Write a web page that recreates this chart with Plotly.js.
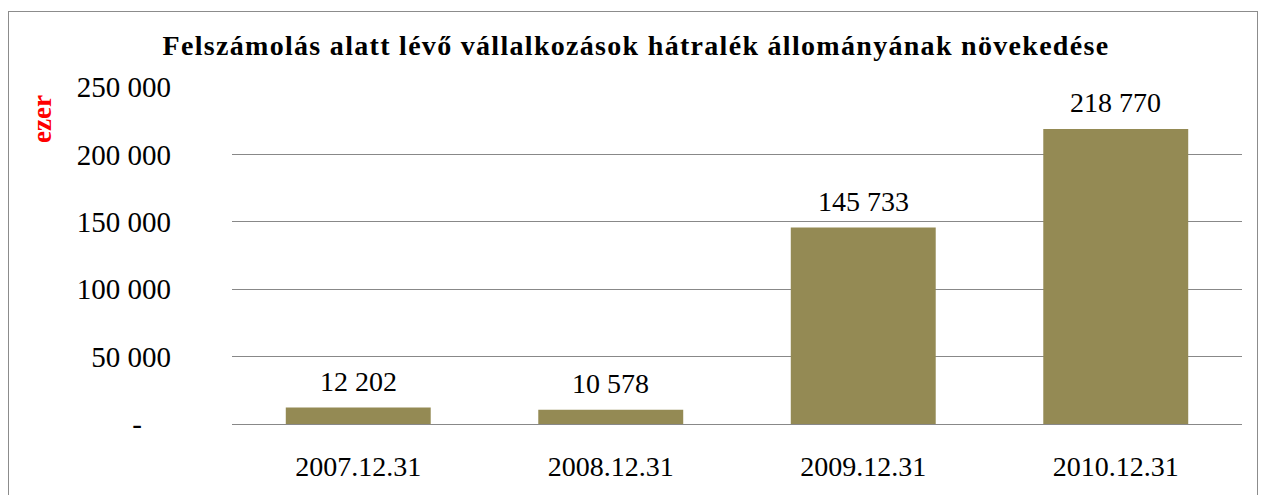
<!DOCTYPE html>
<html>
<head>
<meta charset="utf-8">
<script src="https://cdn.plot.ly/plotly-3.0.1.min.js"></script>
<style>
  html, body { margin: 0; padding: 0; background: #fff; }
  #wrap { position: relative; width: 1265px; height: 495px; overflow: hidden; }
  #chart { position: absolute; left: 0; top: 0; width: 1265px; height: 495px; }
  #frame { position: absolute; left: 8px; top: 11px; width: 1250px; height: 500px; border: 1px solid #8c8c8c; pointer-events: none; box-sizing: border-box; }
  #chart .gtitle { letter-spacing: 1.3px; }
</style>
</head>
<body>
<div id="wrap">
  <div id="chart"></div>
  <div id="frame"></div>
</div>
<script>
const categories = ["2007.12.31", "2008.12.31", "2009.12.31", "2010.12.31"];
const values = [12202, 10578, 145733, 218770];
const valueLabels = ["12 202", "10 578", "145 733", "218 770"];
const yTickVals = [0, 50000, 100000, 150000, 200000, 250000];
const yTickText = ["-\u00a0\u00a0\u00a0\u00a0", "50 000", "100 000", "150 000", "200 000", "250 000"];
const titleText = "Felszámolás alatt lévő vállalkozások hátralék állományának növekedése";
const yLabel = "ezer";

const serif = "'Liberation Serif', 'Times New Roman', serif";

const trace = {
  type: "bar",
  x: categories,
  y: values,
  marker: { color: "#948A54" },
  hoverinfo: "none"
};

const annotations = categories.map((c, i) => ({
  x: c, y: values[i], xref: "x", yref: "y",
  text: valueLabels[i], showarrow: false,
  yanchor: "bottom", yshift: 9,
  font: { family: serif, size: 28, color: "#000" }
}));

annotations.push({
  xref: "paper", yref: "paper",
  x: (42 - 232) / 1010, y: (424 - 119) / 337,
  xanchor: "center", yanchor: "middle",
  text: "<b>" + yLabel + "</b>", textangle: -90, showarrow: false,
  font: { family: serif, size: 27, color: "#FF0000" }
});

const layout = {
  width: 1265, height: 495,
  margin: { l: 232, r: 23, t: 87, b: 71 },
  paper_bgcolor: "#fff", plot_bgcolor: "#fff",
  showlegend: false,
  bargap: 0.426,
  title: {
    text: "<b>" + titleText + "</b>",
    x: 636 / 1265, xref: "container", xanchor: "center",
    y: 1 - 45 / 495, yref: "container", yanchor: "middle",
    font: { family: serif, size: 28, color: "#000" }
  },
  xaxis: {
    type: "category",
    showgrid: false, zeroline: false, showline: false,
    ticks: "", ticklabelstandoff: 23,
    tickfont: { family: serif, size: 28, color: "#000" }
  },
  yaxis: {
    range: [0, 250000],
    tickvals: yTickVals, ticktext: yTickText,
    showgrid: true, gridcolor: "#888", gridwidth: 1,
    zeroline: true, zerolinecolor: "#888", zerolinewidth: 1,
    showline: false, ticks: "", ticklabelstandoff: 60,
    tickfont: { family: serif, size: 29, color: "#000" }
  },
  annotations: annotations
};

Plotly.newPlot("chart", [trace], layout, { staticPlot: true, displayModeBar: false });
</script>
</body>
</html>
